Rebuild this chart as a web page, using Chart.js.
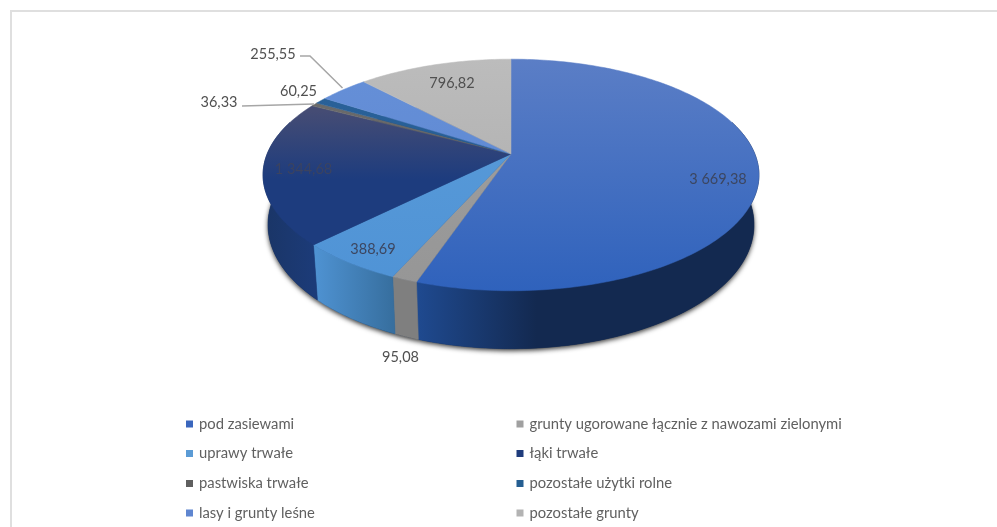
<!DOCTYPE html>
<html><head><meta charset="utf-8">
<style>html,body{margin:0;padding:0;background:#fff}#w{width:997px;height:527px;position:relative}</style>
<script src="https://cdn.jsdelivr.net/npm/chart.js@4"></script>
</head><body><div id="w"><canvas id="c" width="997" height="527"></canvas></div>
<script>
const categories = ['pod zasiewami','grunty ugorowane łącznie z nawozami zielonymi','uprawy trwałe','łąki trwałe','pastwiska trwałe','pozostałe użytki rolne','lasy i grunty leśne','pozostałe grunty'];
const values = [3669.38,95.08,388.69,1344.68,36.33,60.25,255.55,796.82];
const valueLabels = ['3 669,38','95,08','388,69','1 344,68','36,33','60,25','255,55','796,82'];
const legendColors = ['#3a66bd','#a0a0a0','#5b9bd5','#1f3c7c','#5f5f5f','#255e91','#5f86d0','#b3b3b3'];
const topTop = ['#5b7ec6','#a0a0a0','#5b9cd8','#454c74','#6e6e6e','#2b6299','#6690d8','#bcbcbc'];
const topBottom = ['#2f62bc','#969696','#4f93d6','#1d3c7e','#5a5a5a','#215a92','#5a84cf','#aaaaaa'];
const sideLeft = ['#1f4a90','#7f7f7f','#4f93d3','#1a3566','#555','#1e4a75','#4a6ea8','#888'];
const sideRight = ['#132950','#7f7f7f','#376f9f','#1c3b78','#555','#1e4a75','#4a6ea8','#888'];
const labelPos = [[718,179],[400.5,357],[373,249.5],[303.5,169.5],[219,102],[298.5,91.5],[273,54],[452,83.5]];
const leaders = [[[242,106],[314,104]],[[300,56],[310,56],[342.5,88]]];

const K = 0.181, A = 1.78, B = 0.8175;
function project(arc, ang){
  const r = arc.outerRadius, u = Math.cos(ang), v = Math.sin(ang), w = 1 - K*v;
  return {x: arc.x + A*r*u/w, y: arc.y + B*r*v/w, v};
}
function projectBottom(arc, ang){
  const p = project(arc, ang), r = arc.outerRadius;
  return {x: arc.x + (p.x-arc.x)*0.98, y: p.y + r*(0.35 + 0.073*p.v)};
}
function rim(arc, fn, a0, a1){
  const n = Math.max(2, Math.ceil((a1-a0)/0.02)), pts = [];
  for(let i=0;i<=n;i++) pts.push(fn(arc, a0+(a1-a0)*i/n));
  return pts;
}
function trace(ctx, pts, move){
  pts.forEach((p,i)=> (i===0 && move) ? ctx.moveTo(p.x,p.y) : ctx.lineTo(p.x,p.y));
}
const pie3d = {
  id:'pie3d',
  beforeDatasetDraw(chart){
    const ctx = chart.ctx, arcs = chart.getDatasetMeta(0).data;
    const a = arcs[0];
    ctx.save();
    ctx.save();
    ctx.shadowColor='rgba(0,0,0,0.8)'; ctx.shadowBlur=5; ctx.shadowOffsetX=0; ctx.shadowOffsetY=2;
    ctx.fillStyle='#14284f';
    ctx.beginPath();
    trace(ctx, rim(a, projectBottom, 0, Math.PI*2), true);
    ctx.closePath(); ctx.fill();
    ctx.restore();
    arcs.forEach((arc,i)=>{
      const s = Math.max(arc.startAngle,-0.3), e = Math.min(arc.endAngle, Math.PI+0.3);
      if(e<=s) return;
      const t = rim(arc, project, s, e), b = rim(arc, projectBottom, s, e);
      const xs = t.map(p=>p.x), x0=Math.min(...xs), x1=Math.max(...xs);
      const g = ctx.createLinearGradient(x0,0,Math.max(x1,x0+1),0);
      g.addColorStop(0, sideLeft[i]); g.addColorStop(i===0?0.35:1, sideRight[i]); g.addColorStop(1, sideRight[i]);
      ctx.fillStyle=g; ctx.strokeStyle=g; ctx.lineWidth=0.6;
      ctx.beginPath(); trace(ctx,t,true); trace(ctx,b.reverse(),false); ctx.closePath(); ctx.fill(); ctx.stroke();
    });
    arcs.forEach((arc,i)=>{
      const ys = rim(arc, project, arc.startAngle, arc.endAngle).map(p=>p.y);
      const g = ctx.createLinearGradient(0,i===3?Math.min(...ys)+5:59,0,i===3?arc.y+25:291);
      g.addColorStop(0, topTop[i]); g.addColorStop(1, topBottom[i]);
      ctx.fillStyle=g; ctx.strokeStyle=g; ctx.lineWidth=0.5;
      ctx.beginPath(); ctx.moveTo(arc.x,arc.y);
      trace(ctx, rim(arc, project, arc.startAngle, arc.endAngle), false);
      ctx.closePath(); ctx.fill(); ctx.stroke();
    });
    ctx.restore();
    return false;
  },
  afterDatasetsDraw(chart){
    const ctx = chart.ctx;
    ctx.save();
    ctx.strokeStyle='#a6a6a6'; ctx.lineWidth=1.5;
    leaders.forEach(l=>{ctx.beginPath(); l.forEach((p,i)=> i?ctx.lineTo(p[0],p[1]):ctx.moveTo(p[0],p[1])); ctx.stroke();});
    ctx.font='14.5px Lato'; ctx.textAlign='center'; ctx.textBaseline='middle';
    valueLabels.forEach((t,i)=>{
      ctx.fillStyle = i===3 ? '#3b4360' : (i===0||i===2 ? '#3c4660' : '#505050');
      ctx.fillText(t,labelPos[i][0],labelPos[i][1]);
    });
    const cols=[186,516.5], rows=[424,453.5,483.5,513];
    ctx.font='14.8px Lato'; ctx.textAlign='left';
    categories.forEach((t,i)=>{
      const x=cols[i%2], y=rows[i>>1];
      ctx.fillStyle=legendColors[i]; ctx.fillRect(x,y-3.5,7,7);
      ctx.fillStyle='#606060'; ctx.fillText(t,x+13,y);
    });
    ctx.strokeStyle='#dfdfdf'; ctx.lineWidth=2;
    ctx.beginPath(); ctx.moveTo(11,527); ctx.lineTo(11,11); ctx.lineTo(997,11); ctx.stroke();
    ctx.restore();
  }
};
new Chart(document.getElementById('c'),{
  type:'pie',
  data:{labels:categories,datasets:[{data:values,backgroundColor:legendColors,borderWidth:0}]},
  options:{responsive:false,animation:false,
    layout:{padding:{top:17,bottom:236,left:25,right:0}},
    plugins:{legend:{display:false},tooltip:{enabled:false}}},
  plugins:[pie3d]
});
</script></body></html>
